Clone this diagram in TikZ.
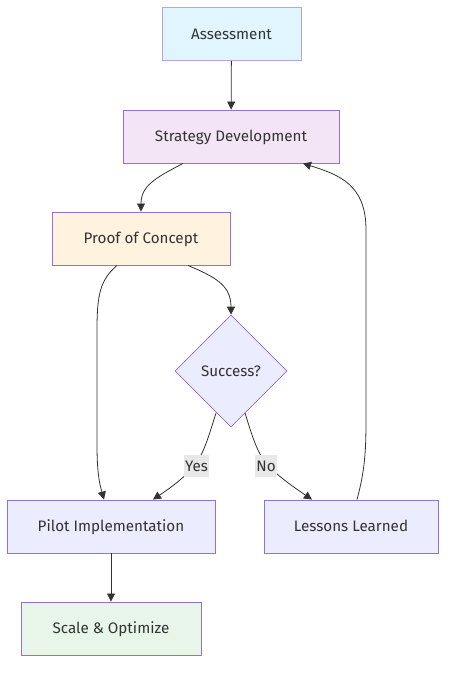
\documentclass[tikz,border=0pt]{standalone}
\usepackage{fontspec}
\setmainfont{Fira Sans}
\usepackage{tikz}
\usetikzlibrary{arrows.meta, positioning, calc, shapes.geometric}
\definecolor{edgecol}{HTML}{333333}
\definecolor{boxline}{HTML}{9370DB}
\definecolor{boxfill}{HTML}{ECECFF}
\definecolor{assessfill}{HTML}{E1F5FE}
\definecolor{stratfill}{HTML}{F3E5F5}
\definecolor{poffill}{HTML}{FFF3E0}
\definecolor{scalefill}{HTML}{E8F5E9}
\definecolor{labelfill}{HTML}{E8E8E8}
\tikzset{>={Stealth[length=8pt,width=8pt,inset=0pt]}}
\tikzset{
  stepbox/.style={draw=boxline, line width=0.9pt, fill=boxfill, text=edgecol,
    minimum height=53pt, inner sep=0pt, text height=12pt, text depth=1.5pt,
    font=\fontsize{15.2}{18}\selectfont},
  decision/.style={diamond, draw=boxline, line width=0.6pt, fill=boxfill, text=edgecol,
    minimum width=112pt, minimum height=112pt, inner sep=0pt, aspect=1,
    font=\fontsize{15.2}{18}\selectfont},
  flow/.style={->, draw=edgecol, line width=0.8pt},
  edgelabel/.style={fill=labelfill, text=edgecol, inner sep=1pt, minimum height=22pt,
    font=\fontsize{15.2}{18}\selectfont}
}
\begin{document}
\begin{tikzpicture}[x=1pt, y=-1pt]
  \useasboundingbox (0,0) rectangle (454,674);
  \node[stepbox, fill=assessfill, draw=boxline!65, minimum width=139pt] (assess) at (231.5,34) {Assessment};
  \node[stepbox, fill=stratfill, minimum width=216pt] (strat) at (231,136.5) {Strategy Development};
  \node[stepbox, fill=poffill, minimum width=178pt] (poc) at (141,238.5) {Proof of Concept};
  \node[decision] (success) at (231,371) {Success?};
  \node[stepbox, minimum width=208pt] (pilot) at (111,526.5) {Pilot Implementation};
  \node[stepbox, minimum width=174pt] (lessons) at (351,526.5) {Lessons Learned};
  \node[stepbox, fill=scalefill, minimum width=180pt] (scale) at (111,628.5) {Scale \& Optimize};

  \draw[flow] (assess) -- (strat);
  \draw[flow] ($(strat.south)+(-48,0)$) .. controls (155,178) and (141,186) .. (poc.north);
  \draw[flow] ($(poc.south)+(-24,0)$) .. controls (100,280) and (97,295) .. (97,330)
    -- (97,445) .. controls (97,475) and (100,485) .. ($(pilot.north)+(-7,0)$);
  \draw[flow] ($(poc.south)+(47,0)$) .. controls (215,277) and (231,285) .. (success.north);
  \draw[flow] (216,413) .. controls (210,432) and (205,450) .. (197,462)
    .. controls (185,478) and (170,488) .. ($(pilot.north)+(42,0)$);
  \draw[flow] (245,413) .. controls (251,432) and (256,450) .. (265,462)
    .. controls (277,476) and (295,488) .. ($(lessons.north)+(-39,0)$);
  \draw[flow] ($(lessons.north)+(6,0)$) .. controls (365,470) and (366,450) .. (366,420)
    -- (366,230) .. controls (366,185) and (340,175) .. ($(strat.south)+(72,0)$);
  \draw[flow] (pilot) -- (scale);

  \node[edgelabel] (yes) at (196.5,466) {Yes};
  \node[edgelabel] (no) at (266,466) {No};
\end{tikzpicture}
\end{document}
